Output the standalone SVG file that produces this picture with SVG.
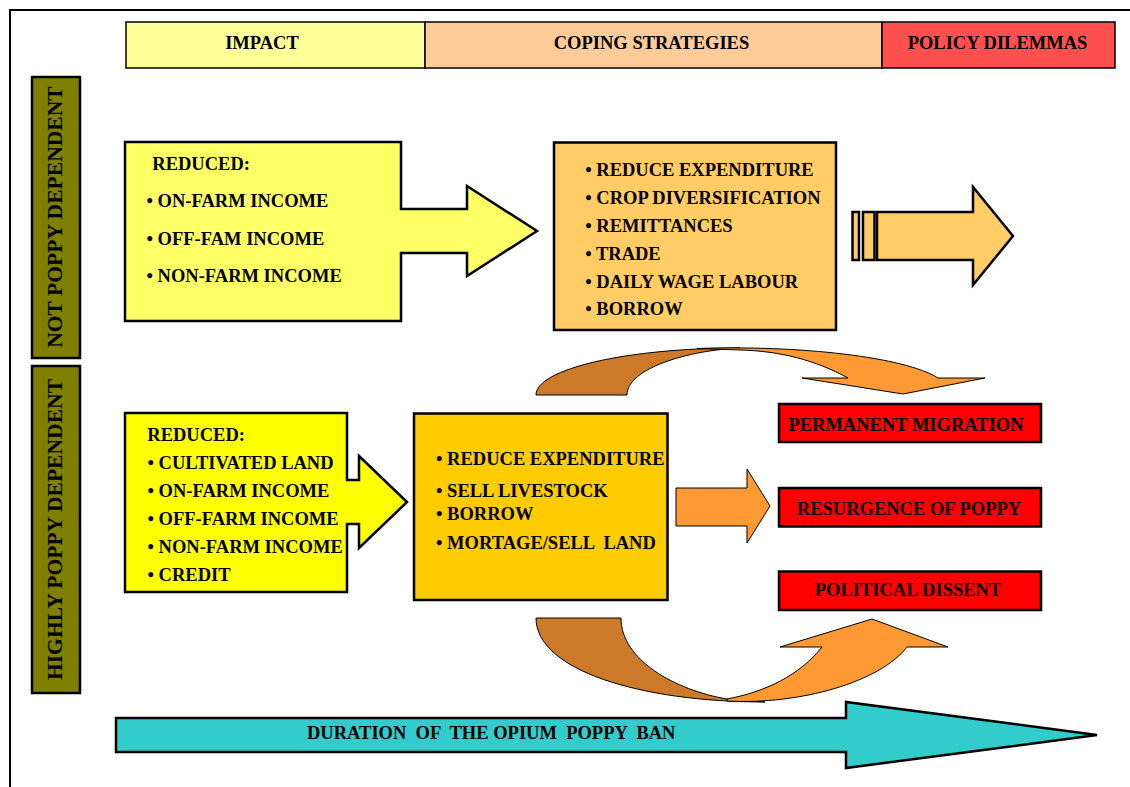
<svg xmlns="http://www.w3.org/2000/svg" width="1130" height="787" viewBox="0 0 1130 787">
<style>
.t{font-family:"Liberation Serif","Times New Roman",serif;font-weight:bold;font-size:18.5px;fill:#000;white-space:pre}
.c{text-anchor:middle}
.v{font-family:"Liberation Serif","Times New Roman",serif;font-weight:bold;font-size:21.6px;fill:#000;text-anchor:middle}
.bx{stroke:#000;stroke-width:2.5;stroke-linejoin:miter}
.hd{stroke:#000;stroke-width:1.5}
.thin{stroke:#000;stroke-width:1}
</style>
<rect width="1130" height="787" fill="#fff"/>
<path d="M10,787 V10 H1130" fill="none" stroke="#000" stroke-width="2"/>

<g id="header">
  <rect class="hd" x="126" y="22" width="299" height="46" fill="#FFFF99"/>
  <rect class="hd" x="425" y="22" width="457" height="46" fill="#FFCC99"/>
  <rect class="hd" x="882" y="22" width="233" height="46" fill="#FF5050"/>
  <text class="t c" x="262" y="49">IMPACT</text>
  <text class="t c" x="651.5" y="49">COPING STRATEGIES</text>
  <text class="t c" x="997.5" y="49">POLICY DILEMMAS</text>
</g>

<g id="label-not-poppy">
  <rect class="bx" x="32" y="77" width="48" height="281" fill="#808000"/>
  <text class="v" transform="translate(62,217) rotate(-90)">NOT POPPY DEPENDENT</text>
</g>
<g id="label-highly-poppy">
  <rect class="bx" x="32" y="366" width="48" height="327" fill="#808000"/>
  <text class="v" transform="translate(62,529.5) rotate(-90)">HIGHLY POPPY DEPENDENT</text>
</g>

<g id="connectors">
  <!-- top curved arrow -->
  <path class="thin" fill="#CC7A29" d="M536,395 C536,369 626,348 740,348 C690,350 627,368 627,395 Z"/>
  <path class="thin" fill="#FF9933" d="M697,348.5 C800,345 905,357 938,378 L985,378 L903,394 L802,378 L848,378 C815,360 780,351 740,350 Z"/>
  <!-- straight orange arrow -->
  <path class="thin" fill="#FF9933" d="M676,488 H747 V469 L770,506 L747,543 V526 H676 Z"/>
  <!-- bottom curved arrow -->
  <path class="thin" fill="#CC7A29" d="M536,618 L621,618 C621,660 675,690 727,699 L765,702 C640,702 536,670 536,618 Z"/>
  <path class="thin" fill="#FF9933" d="M727,701 C800,705 880,682 907,647 L948,647 L872,619 L780,647 L822,647 C800,675 765,692 727,699 Z"/>
  <!-- striped arrow -->
  <rect class="bx" x="852.5" y="212" width="6.5" height="48" fill="#FFCC66"/>
  <rect class="bx" x="863" y="212" width="11.5" height="48" fill="#FFCC66"/>
  <path class="bx" fill="#FFCC66" d="M877,212 H973 V187 L1013,236 L973,285 V260 H877 Z"/>
  <!-- duration arrow -->
  <path class="bx" fill="#33CCCC" d="M116,718 H846 V702 L1097,735 L846,768 V752 H116 Z"/>
  <text class="t" x="307" y="738.5">DURATION  OF  THE OPIUM  POPPY  BAN</text>
</g>

<g id="impact-not-poppy">
  <path class="bx" fill="#FFFF66" d="M125,142 H401 V209 H467 V186 L537,231 L467,276 V253 H401 V321 H125 Z"/>
  <text class="t" x="152.3" y="170">REDUCED:</text>
  <text class="t" x="146.5" y="207">• ON-FARM INCOME</text>
  <text class="t" x="146.5" y="245">• OFF-FAM INCOME</text>
  <text class="t" x="146.5" y="282">• NON-FARM INCOME</text>
</g>

<g id="coping-not-poppy">
  <rect class="bx" x="554" y="142.5" width="282" height="187.5" fill="#FFCC66"/>
  <text class="t" x="585.2" y="176">• REDUCE EXPENDITURE</text>
  <text class="t" x="585.2" y="204">• CROP DIVERSIFICATION</text>
  <text class="t" x="585.2" y="232">• REMITTANCES</text>
  <text class="t" x="585.2" y="260">• TRADE</text>
  <text class="t" x="585.2" y="287.5">• DAILY WAGE LABOUR</text>
  <text class="t" x="585.2" y="315">• BORROW</text>
</g>

<g id="impact-highly-poppy">
  <path class="bx" fill="#FFFF00" d="M125,413 H347 V480 H359 V456 L407,502 L359,548 V524 H347 V592 H125 Z"/>
  <text class="t" x="147.3" y="441">REDUCED:</text>
  <text class="t" x="147.5" y="469">• CULTIVATED LAND</text>
  <text class="t" x="147.5" y="497">• ON-FARM INCOME</text>
  <text class="t" x="147.5" y="525">• OFF-FARM INCOME</text>
  <text class="t" x="147.5" y="553">• NON-FARM INCOME</text>
  <text class="t" x="147.5" y="581">• CREDIT</text>
</g>

<g id="coping-highly-poppy">
  <rect class="bx" x="414" y="413.5" width="253.5" height="186.5" fill="#FFCC00"/>
  <text class="t" x="436" y="465">• REDUCE EXPENDITURE</text>
  <text class="t" x="436" y="497">• SELL LIVESTOCK</text>
  <text class="t" x="436" y="520">• BORROW</text>
  <text class="t" x="436" y="548.5">• MORTAGE/SELL  LAND</text>
</g>

<g id="permanent-migration">
  <rect class="bx" x="779" y="404" width="262" height="38" fill="#FF0000"/>
  <text class="t c" x="906" y="431">PERMANENT MIGRATION</text>
</g>
<g id="resurgence-of-poppy">
  <rect class="bx" x="779" y="488" width="262" height="38.5" fill="#FF0000"/>
  <text class="t c" x="909" y="515">RESURGENCE OF POPPY</text>
</g>
<g id="political-dissent">
  <rect class="bx" x="779" y="571.5" width="262" height="38.5" fill="#FF0000"/>
  <text class="t c" x="908" y="596">POLITICAL DISSENT</text>
</g>
</svg>
